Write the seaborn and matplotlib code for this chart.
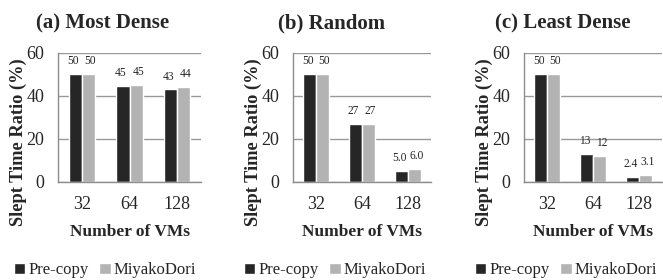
import pandas as pd
import matplotlib.pyplot as plt
import seaborn as sns

# Data
vms = ["32", "64", "128"]
methods = ["Pre-copy", "MiyakoDori"]
titles = ["(a) Most Dense", "(b) Random", "(c) Least Dense"]

precopy_dense = [50, 44.5, 43]
miyako_dense = [50, 45, 44]
precopy_random = [50, 27, 5.0]
miyako_random = [50, 27, 6.0]
precopy_least = [50, 13, 2.4]
miyako_least = [50, 12, 3.1]

labels_pre = [["50", "45", "43"], ["50", "27", "5.0"], ["50", "13", "2.4"]]
labels_miy = [["50", "45", "44"], ["50", "27", "6.0"], ["50", "12", "3.1"]]

panels = [(precopy_dense, miyako_dense),
          (precopy_random, miyako_random),
          (precopy_least, miyako_least)]

sns.set_style("white")
plt.rcParams['font.family'] = ['Liberation Serif', 'DejaVu Serif']

fig = plt.figure(figsize=(6.63, 2.8), dpi=100)

# axes placement in pixels (left, width)
ax_pos = [(58, 143), (293, 138), (524, 138)]
title_x = [103, 332, 563]
legend_x = [105, 335, 566]
colors = ["#262626", "#b3b3b3"]

for i, (pre, miy) in enumerate(panels):
    left, width = ax_pos[i]
    ax = fig.add_axes([left / 663, 0.35, width / 663, 0.461])
    df = pd.DataFrame({
        "vms": vms * 2,
        "ratio": pre + miy,
        "method": [methods[0]] * 3 + [methods[1]] * 3,
    })
    sns.barplot(data=df, x="vms", y="ratio", hue="method", palette=colors,
                width=0.55, gap=0, ax=ax, saturation=1, legend=True)
    # labels nudged apart a little so neighbours don't touch
    for t in ax.bar_label(ax.containers[0], labels=labels_pre[i], padding=5, fontsize=8.3):
        t.xyann = (-1.5, 5)
    for t in ax.bar_label(ax.containers[1], labels=labels_miy[i], padding=5, fontsize=8.3):
        t.xyann = (1.5, 5)

    ax.set_ylim(0, 60)
    ax.set_yticks([0, 20, 40, 60])
    ax.set_xlim(-0.5, 2.5)
    ax.yaxis.grid(True, color="#999999", linewidth=1)
    ax.set_axisbelow(True)
    for s in ["top", "right"]:
        ax.spines[s].set_visible(False)
    for s in ["left", "bottom"]:
        ax.spines[s].set_color("#8c8c8c")
        ax.spines[s].set_linewidth(1)
    ax.tick_params(axis="x", which="major", length=0, labelsize=13, pad=10)
    ax.set_xticks([-0.5, 0.5, 1.5, 2.5], minor=True)
    ax.tick_params(axis="x", which="minor", length=4, color="#8c8c8c", direction="out")
    ax.tick_params(axis="y", length=4, color="#8c8c8c", labelsize=13, pad=6)

    ax.set_xlabel("Number of VMs", fontsize=12.5, fontweight="bold", labelpad=8)
    ax.set_ylabel("Slept Time Ratio (%)", fontsize=13.2, fontweight="bold")
    ax.yaxis.set_label_coords(-31 / width, 0.31)

    handles, lbls = ax.get_legend_handles_labels()
    ax.legend(handles, lbls, loc="center", bbox_to_anchor=(legend_x[i] / 663, 0.034),
              bbox_transform=fig.transFigure, ncol=2, frameon=False, fontsize=12,
              handlelength=0.7, handleheight=0.7, handletextpad=0.2,
              columnspacing=0.6, borderpad=0)

    fig.text(title_x[i] / 663, 0.916, titles[i], ha="center", va="center",
             fontsize=15, fontweight="bold")

plt.savefig("out.png", dpi=100)
